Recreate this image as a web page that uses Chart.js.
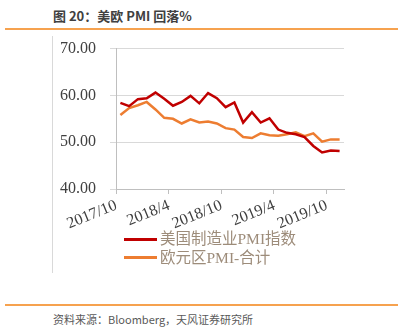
<!DOCTYPE html>
<html>
<head>
<meta charset="utf-8">
<script src="https://cdn.jsdelivr.net/npm/chart.js@4.4.1/dist/chart.umd.min.js"></script>
<style>
  body { margin: 0; width: 407px; height: 327px; background: #fff; position: relative; overflow: hidden; }
  .abs { position: absolute; }
  #title { left: 53px; top: 6px; font: bold 13px "Noto Sans CJK SC", sans-serif; color: #404040; white-space: nowrap; }
  .rule { left: 5px; width: 393px; height: 2px; background: #f6a24f; }
  #leftline { left: 52px; top: 36px; width: 1px; height: 237px; background: #d9d9d9; }
  #wrap { left: 53px; top: 25px; width: 299px; height: 209px; }
  #legend { left: 124px; top: 230px; font: 15.5px "Liberation Serif", "Noto Sans CJK SC", serif; color: #9d8c7a; line-height: 18.5px; white-space: nowrap; }
  #legend .swatch { display: inline-block; width: 33px; height: 3px; vertical-align: middle; margin-right: 3px; position: relative; top: -1px; }
  #source { left: 53px; top: 311px; font: 11px "Noto Sans CJK SC", sans-serif; color: #595959; white-space: nowrap; }
</style>
</head>
<body>
<div id="title" class="abs">图 20：美欧 PMI 回落%</div>
<div class="abs rule" style="top:28px"></div>
<div id="leftline" class="abs"></div>
<div id="wrap" class="abs"><canvas id="pmi-chart"></canvas></div>
<div id="legend" class="abs"></div>
<div class="abs rule" style="top:304px"></div>
<div id="source" class="abs">资料来源：Bloomberg，天风证券研究所</div>
<script>
var months = ["2017/10","2017/11","2017/12","2018/1","2018/2","2018/3","2018/4","2018/5","2018/6",
              "2018/7","2018/8","2018/9","2018/10","2018/11","2018/12","2019/1","2019/2","2019/3",
              "2019/4","2019/5","2019/6","2019/7","2019/8","2019/9","2019/10","2019/11"];
var usPmi = [58.4,57.7,59.2,59.4,60.6,59.3,57.8,58.6,59.9,58.3,60.5,59.4,57.5,58.5,54.2,56.4,
             54.2,55.1,52.7,52.0,51.7,51.1,49.2,47.8,48.2,48.1];
var euPmi = [55.8,57.3,57.9,58.6,57.0,55.2,55.0,54.0,54.9,54.2,54.4,54.0,53.0,52.7,51.1,50.9,
             51.9,51.5,51.4,51.7,52.1,51.3,51.9,50.1,50.6,50.6];
var shownMonths = ["2017/10","2018/4","2018/10","2019/4","2019/10"];
var seriesLabels = ["美国制造业PMI指数", "欧元区PMI-合计"];
var seriesColors = ["#c00000", "#ed7d31"];
var yTicks = [40, 50, 60, 70];

var tickFont = { family: "'Liberation Serif', serif", size: 16 };

var pmiChart = new Chart(document.getElementById("pmi-chart"), {
  type: "line",
  data: {
    labels: months,
    datasets: [
      { label: seriesLabels[0], data: usPmi, borderColor: seriesColors[0], backgroundColor: seriesColors[0],
        borderWidth: 2.5, pointRadius: 0, tension: 0 },
      { label: seriesLabels[1], data: euPmi, borderColor: seriesColors[1], backgroundColor: seriesColors[1],
        borderWidth: 2.5, pointRadius: 0, tension: 0 }
    ]
  },
  options: {
    responsive: true,
    maintainAspectRatio: false,
    animation: false,
    layout: { padding: { top: 4, right: 8, left: 0, bottom: 0 } },
    plugins: { legend: { display: false }, tooltip: { enabled: false } },
    scales: {
      x: {
        offset: true,
        grid: {
          offset: true,
          drawOnChartArea: false,
          drawTicks: true,
          tickLength: 5,
          color: function(ctx) { return (ctx.index % 6 === 0 && ctx.index < months.length) ? "#bfbfbf" : "rgba(0,0,0,0)"; }
        },
        border: { display: true, color: "#bfbfbf" },
        ticks: {
          autoSkip: false,
          minRotation: 22,
          maxRotation: 22,
          labelOffset: -4,
          padding: 2,
          color: "#404040",
          font: tickFont,
          callback: function(v, i) { return shownMonths.indexOf(months[i]) >= 0 ? months[i] : ""; }
        },
        afterFit: function(scale) { scale.height = 45; }
      },
      y: {
        min: yTicks[0],
        max: yTicks[yTicks.length - 1],
        grid: { color: "#d9d9d9", tickLength: 6 },
        border: { display: true, color: "#bfbfbf" },
        ticks: {
          stepSize: 10,
          padding: 14,
          color: "#404040",
          font: tickFont,
          callback: function(v) { return v.toFixed(2); }
        },
        afterFit: function(scale) { scale.width = 63; }
      }
    }
  }
});

// legend rows, left aligned like the source
var legendBox = document.getElementById("legend");
pmiChart.data.datasets.forEach(function(ds) {
  var row = document.createElement("div");
  var sw = document.createElement("span");
  sw.className = "swatch";
  sw.style.background = ds.borderColor;
  row.appendChild(sw);
  row.appendChild(document.createTextNode(ds.label));
  legendBox.appendChild(row);
});
</script>
</body>
</html>
